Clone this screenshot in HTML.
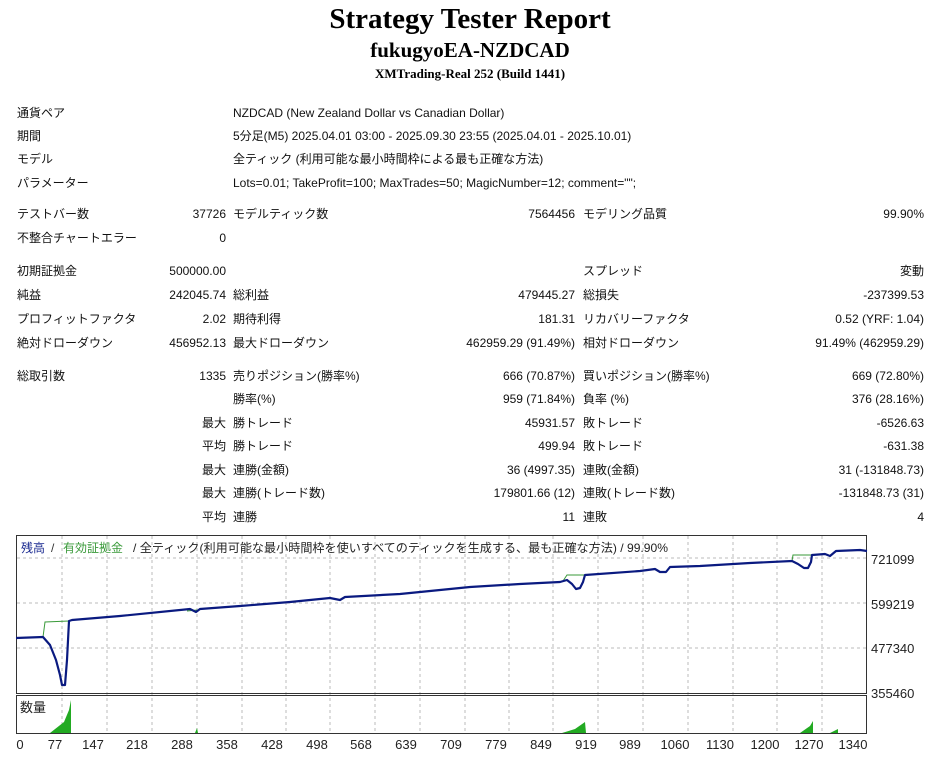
<!DOCTYPE html>
<html><head><meta charset="utf-8"><style>
body{margin:0;width:940px;height:761px;background:#fff;position:relative;overflow:hidden;font-family:"Liberation Sans","Noto Sans CJK JP",sans-serif;font-size:12px;color:#111}
.t{position:absolute;white-space:nowrap;line-height:14px}
.r{position:absolute;white-space:nowrap;line-height:14px;text-align:right}
h1,h2,h3{position:absolute;left:0;width:940px;text-align:center;margin:0;font-family:"Liberation Serif",serif;font-weight:bold;color:#000}
</style></head><body>
<h1 style="top:2px;font-size:29px;line-height:34px">Strategy Tester Report</h1>
<h2 style="top:38px;font-size:21px;line-height:24px">fukugyoEA-NZDCAD</h2>
<h3 style="top:66px;font-size:13px;line-height:16px">XMTrading-Real 252 (Build 1441)</h3>

<div class="t" style="left:17px;top:106px">通貨ペア</div><div class="t" style="left:233px;top:106px">NZDCAD (New Zealand Dollar vs Canadian Dollar)</div>
<div class="t" style="left:17px;top:129px">期間</div><div class="t" style="left:233px;top:129px">5分足(M5) 2025.04.01 03:00 - 2025.09.30 23:55 (2025.04.01 - 2025.10.01)</div>
<div class="t" style="left:17px;top:152px">モデル</div><div class="t" style="left:233px;top:152px">全ティック (利用可能な最小時間枠による最も正確な方法)</div>
<div class="t" style="left:17px;top:176px">パラメーター</div><div class="t" style="left:233px;top:176px">Lots=0.01; TakeProfit=100; MaxTrades=50; MagicNumber=12; comment="";</div>

<div class="t" style="left:17px;top:207px">テストバー数</div><div class="r" style="right:714px;top:207px">37726</div><div class="t" style="left:233px;top:207px">モデルティック数</div><div class="r" style="right:365px;top:207px">7564456</div><div class="t" style="left:583px;top:207px">モデリング品質</div><div class="r" style="right:16px;top:207px">99.90%</div>
<div class="t" style="left:17px;top:231px">不整合チャートエラー</div><div class="r" style="right:714px;top:231px">0</div>

<div class="t" style="left:17px;top:264px">初期証拠金</div><div class="r" style="right:714px;top:264px">500000.00</div><div class="t" style="left:583px;top:264px">スプレッド</div><div class="r" style="right:16px;top:264px">変動</div>
<div class="t" style="left:17px;top:288px">純益</div><div class="r" style="right:714px;top:288px">242045.74</div><div class="t" style="left:233px;top:288px">総利益</div><div class="r" style="right:365px;top:288px">479445.27</div><div class="t" style="left:583px;top:288px">総損失</div><div class="r" style="right:16px;top:288px">-237399.53</div>
<div class="t" style="left:17px;top:312px">プロフィットファクタ</div><div class="r" style="right:714px;top:312px">2.02</div><div class="t" style="left:233px;top:312px">期待利得</div><div class="r" style="right:365px;top:312px">181.31</div><div class="t" style="left:583px;top:312px">リカバリーファクタ</div><div class="r" style="right:16px;top:312px">0.52 (YRF: 1.04)</div>
<div class="t" style="left:17px;top:336px">絶対ドローダウン</div><div class="r" style="right:714px;top:336px">456952.13</div><div class="t" style="left:233px;top:336px">最大ドローダウン</div><div class="r" style="right:365px;top:336px">462959.29 (91.49%)</div><div class="t" style="left:583px;top:336px">相対ドローダウン</div><div class="r" style="right:16px;top:336px">91.49% (462959.29)</div>

<div class="t" style="left:17px;top:369px">総取引数</div><div class="r" style="right:714px;top:369px">1335</div><div class="t" style="left:233px;top:369px">売りポジション(勝率%)</div><div class="r" style="right:365px;top:369px">666 (70.87%)</div><div class="t" style="left:583px;top:369px">買いポジション(勝率%)</div><div class="r" style="right:16px;top:369px">669 (72.80%)</div>
<div class="t" style="left:233px;top:392px">勝率(%)</div><div class="r" style="right:365px;top:392px">959 (71.84%)</div><div class="t" style="left:583px;top:392px">負率 (%)</div><div class="r" style="right:16px;top:392px">376 (28.16%)</div>
<div class="r" style="right:714px;top:416px">最大</div><div class="t" style="left:233px;top:416px">勝トレード</div><div class="r" style="right:365px;top:416px">45931.57</div><div class="t" style="left:583px;top:416px">敗トレード</div><div class="r" style="right:16px;top:416px">-6526.63</div>
<div class="r" style="right:714px;top:439px">平均</div><div class="t" style="left:233px;top:439px">勝トレード</div><div class="r" style="right:365px;top:439px">499.94</div><div class="t" style="left:583px;top:439px">敗トレード</div><div class="r" style="right:16px;top:439px">-631.38</div>
<div class="r" style="right:714px;top:463px">最大</div><div class="t" style="left:233px;top:463px">連勝(金額)</div><div class="r" style="right:365px;top:463px">36 (4997.35)</div><div class="t" style="left:583px;top:463px">連敗(金額)</div><div class="r" style="right:16px;top:463px">31 (-131848.73)</div>
<div class="r" style="right:714px;top:486px">最大</div><div class="t" style="left:233px;top:486px">連勝(トレード数)</div><div class="r" style="right:365px;top:486px">179801.66 (12)</div><div class="t" style="left:583px;top:486px">連敗(トレード数)</div><div class="r" style="right:16px;top:486px">-131848.73 (31)</div>
<div class="r" style="right:714px;top:510px">平均</div><div class="t" style="left:233px;top:510px">連勝</div><div class="r" style="right:365px;top:510px">11</div><div class="t" style="left:583px;top:510px">連敗</div><div class="r" style="right:16px;top:510px">4</div>

<svg style="position:absolute;left:0;top:0" width="940" height="761" font-family="Liberation Sans, Noto Sans CJK JP, sans-serif">
<g stroke="#bbb" stroke-dasharray="3,3" stroke-width="1">
<path d="M62 536V733M107 536V733M152 536V733M197 536V733M242 536V733M286 536V733M330 536V733M375 536V733M420 536V733M465 536V733M509 536V733M553 536V733M598 536V733M643 536V733M688 536V733M733 536V733M777 536V733M822 536V733"/>
<path d="M17 558H866M17 603H866M17 648H866"/>
</g>
<rect x="16.5" y="535.5" width="850" height="158" fill="none" stroke="#333"/>
<rect x="16.5" y="695.5" width="850" height="38" fill="none" stroke="#333"/>
<g fill="#22aa22">
<path d="M50 733 L64 722 L69 710 L71 700 L71 733Z"/>
<path d="M562 733 L575 729 L585 722 L586 733Z"/>
<path d="M800 733 L810 726 L813 721 L813 733Z"/>
<path d="M830 733 L838 729 L838 733Z"/>
<path d="M195 733 L197 728 L198 733Z"/>
</g>
<polyline fill="none" stroke="#3a9a3a" stroke-width="1" points="43,637 45,622 69,621"/>
<polyline fill="none" stroke="#3a9a3a" stroke-width="1" points="563,581 567,575 585,575"/>
<polyline fill="none" stroke="#3a9a3a" stroke-width="1" points="792,561 793,555 812,555"/>
<polyline fill="none" stroke="#3a9a3a" stroke-width="1" points="187,611 197,610"/>
<polyline fill="none" stroke="#0a1a80" stroke-width="2.2" stroke-linejoin="round" points="16,638 43,637 50,645 56,660 60,675 62,685 65,685 67,660 69,621 72,620 120,616 190,609 196,612 200,609 240,606 290,602 330,598 340,600 345,597 400,594 470,587 520,584 560,582 567,580 572,584 576,589 580,588 583,582 585,575 640,571 655,569 660,572 666,572 670,567 700,566 750,563 792,561 798,564 804,568 808,568 811,562 812,555 825,554 830,556 836,551 860,550 867,551"/>
<text x="21" y="552" font-size="12" fill="#1a2a90">残高</text>
<text x="51" y="552" font-size="12" fill="#333">/</text>
<text x="63" y="552" font-size="12" fill="#3a9a3a">有効証拠金</text>
<text x="133" y="552" font-size="12" fill="#222" textLength="535" lengthAdjust="spacingAndGlyphs">/ 全ティック(利用可能な最小時間枠を使いすべてのティックを生成する、最も正確な方法) / 99.90%</text>
<text x="20" y="712" font-size="13" fill="#222">数量</text>
<g font-size="13" fill="#222">
<text x="871" y="564">721099</text><text x="871" y="609">599219</text><text x="871" y="653">477340</text><text x="871" y="698">355460</text>
</g>
<g font-size="13" fill="#222" text-anchor="middle">
<text x="20" y="749">0</text><text x="55" y="749">77</text><text x="93" y="749">147</text><text x="137" y="749">218</text><text x="182" y="749">288</text><text x="227" y="749">358</text><text x="272" y="749">428</text><text x="317" y="749">498</text><text x="361" y="749">568</text><text x="406" y="749">639</text><text x="451" y="749">709</text><text x="496" y="749">779</text><text x="541" y="749">849</text><text x="586" y="749">919</text><text x="630" y="749">989</text><text x="675" y="749">1060</text><text x="720" y="749">1130</text><text x="765" y="749">1200</text><text x="809" y="749">1270</text><text x="853" y="749">1340</text>
</g>
</svg>
</body></html>
